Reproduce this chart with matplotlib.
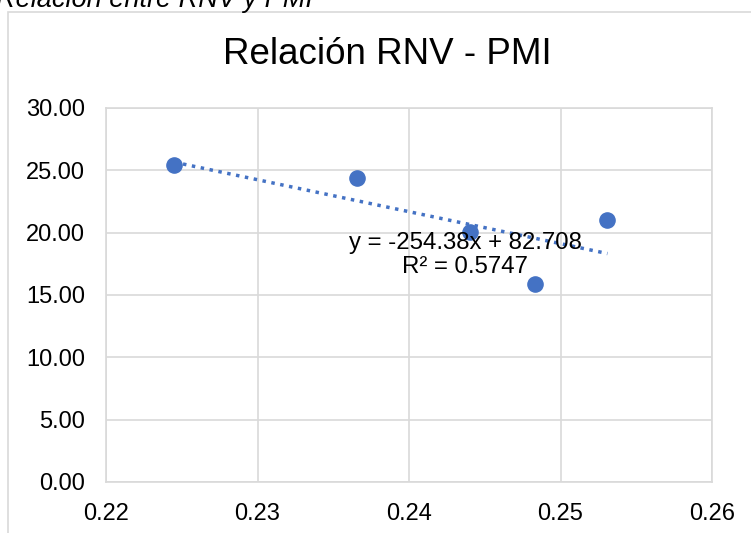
import numpy as np
import matplotlib
matplotlib.use("Agg")
import matplotlib.pyplot as plt
from matplotlib.patches import Rectangle

plt.rcParams['font.family'] = ['Liberation Sans', 'DejaVu Sans']

# datos
rnv = [0.2245, 0.2366, 0.2440, 0.2483, 0.2531]
pmi = [25.4, 24.4, 20.05, 15.9, 21.0]
x_ticks = [0.22, 0.23, 0.24, 0.25, 0.26]
y_ticks = [0, 5, 10, 15, 20, 25, 30]
ecuacion = "y = -254.38x + 82.708\nR² = 0.5747"

azul = "#4472C4"
gris = "#D9D9D9"

fig = plt.figure(figsize=(7.51, 5.33), dpi=100)
ax = fig.add_axes([106/751, 1-482/533, (712-106)/751, (482-108)/533])

# borde del area del grafico (recortado a la derecha y abajo)
fig.patches.append(Rectangle((8/751, -0.2), 1.2, 1.2 - 12/533, transform=fig.transFigure,
                             fill=False, edgecolor=gris, lw=1.2))

ax.scatter(rnv, pmi, s=120, color=azul, zorder=3)

# linea de tendencia
m, b = np.polyfit(rnv, pmi, 1)
xs = np.array([min(rnv), max(rnv)])
ax.plot(xs, m*xs + b, linestyle=(0, (1, 1.6)), color=azul, lw=2.5, zorder=2)

ax.text(0.2437, 18.2, ecuacion, ha='center', va='center', fontsize=17.3,
        linespacing=1.1, zorder=4)

ax.set_xlim(0.22, 0.26)
ax.set_ylim(0, 30)
ax.set_xticks(x_ticks)
ax.set_yticks(y_ticks)
ax.set_xticklabels(["%.2f" % v for v in x_ticks])
ax.set_yticklabels(["%.2f" % v for v in y_ticks])
ax.tick_params(axis='both', length=0, labelsize=17)
ax.tick_params(axis='y', pad=15)
ax.tick_params(axis='x', pad=15)
ax.grid(True, color=gris, lw=1.2)
ax.set_axisbelow(True)
for s in ax.spines.values():
    s.set_color(gris)
    s.set_linewidth(1.2)

fig.text(387/751, 1-55/533, "Relación RNV - PMI", ha='center', va='center', fontsize=26.5)
fig.text(-4/751, 1-7/533, "Relación entre RNV y PMI", ha='left', va='baseline',
         fontsize=19.5, style='italic')

fig.savefig("out.png", dpi=100)
